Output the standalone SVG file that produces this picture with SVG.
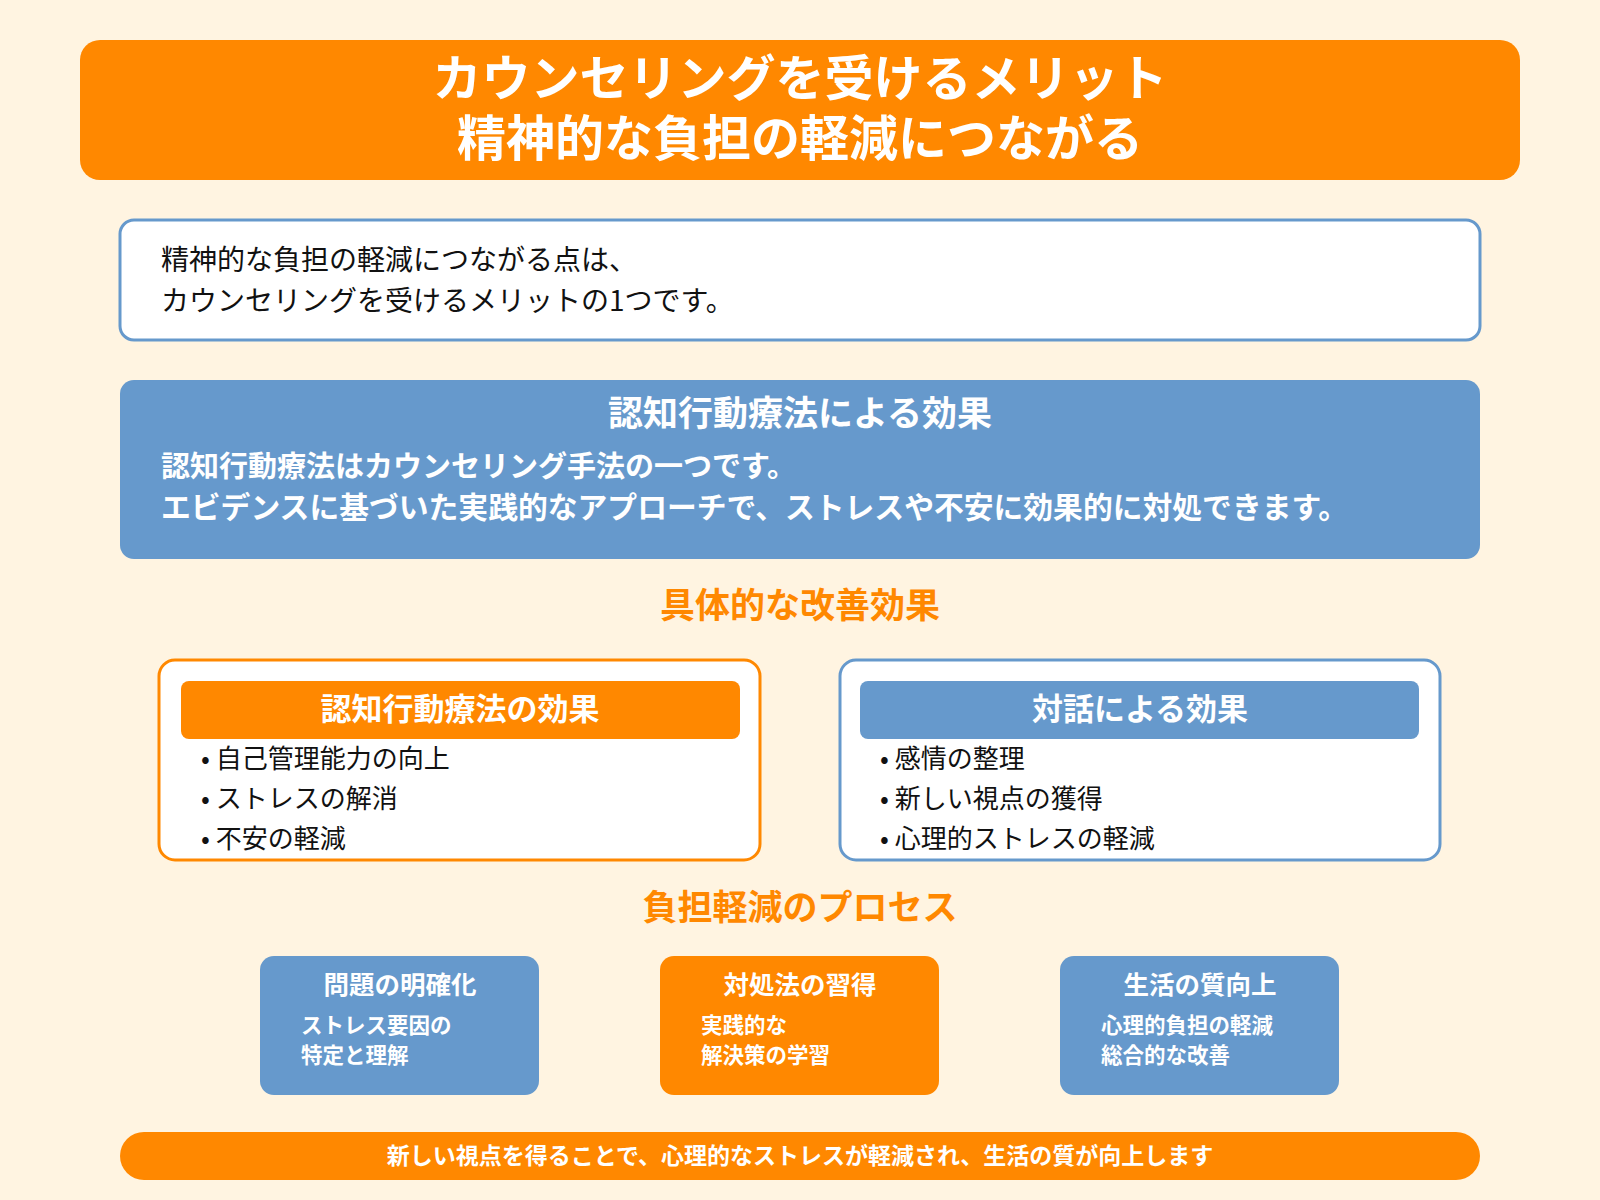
<svg xmlns="http://www.w3.org/2000/svg" width="1600" height="1200" viewBox="0 0 1600 1200">
<style>
text{font-family:"Noto Sans CJK JP","Noto Sans",sans-serif;}
.w{fill:#fff;font-weight:bold}
.b{font-weight:bold}
.c{text-anchor:middle}
.blue{fill:#6699CC}
.or{fill:#FF8800}
</style>
<rect width="1600" height="1200" fill="#FFF4E1"/>
<g id="title">
<rect x="80" y="40" width="1440" height="140" rx="20" class="or"/>
<text x="800" y="96" class="w c" font-size="49">カウンセリングを受けるメリット</text>
<text x="800" y="156" class="w c" font-size="49">精神的な負担の軽減につながる</text>
</g>
<g id="intro">
<rect x="120" y="220" width="1360" height="120" rx="14" fill="#fff" stroke="#6699CC" stroke-width="3"/>
<text x="161" y="270" font-size="28" fill="#111">精神的な負担の軽減につながる点は、</text>
<text x="161" y="311" font-size="28" fill="#111">カウンセリングを受けるメリットの1つです。</text>
</g>
<g id="cbt">
<rect x="120" y="380" width="1360" height="179" rx="14" class="blue"/>
<text x="800" y="426" class="w c" font-size="35">認知行動療法による効果</text>
<text x="161" y="477" class="w" font-size="29">認知行動療法はカウンセリング手法の一つです。</text>
<text x="161" y="518" class="w" font-size="29.8">エビデンスに基づいた実践的なアプローチで、ストレスや不安に効果的に対処できます。</text>
</g>
<text x="800" y="618" class="b c or" font-size="35">具体的な改善効果</text>
<g id="left">
<rect x="159" y="660" width="601" height="200" rx="16" fill="#fff" stroke="#FF8800" stroke-width="3"/>
<rect x="181" y="681" width="559" height="58" rx="8" class="or"/>
<text x="460" y="720" class="w c" font-size="31">認知行動療法の効果</text>
<text x="201" y="768" font-size="26" fill="#111">• 自己管理能力の向上</text>
<text x="201" y="808" font-size="26" fill="#111">• ストレスの解消</text>
<text x="201" y="848" font-size="26" fill="#111">• 不安の軽減</text>
</g>
<g id="right">
<rect x="840" y="660" width="600" height="200" rx="16" fill="#fff" stroke="#6699CC" stroke-width="3"/>
<rect x="860" y="681" width="559" height="58" rx="8" class="blue"/>
<text x="1140" y="720" class="w c" font-size="31">対話による効果</text>
<text x="880" y="768" font-size="26" fill="#111">• 感情の整理</text>
<text x="880" y="808" font-size="26" fill="#111">• 新しい視点の獲得</text>
<text x="880" y="848" font-size="26" fill="#111">• 心理的ストレスの軽減</text>
</g>
<text x="800" y="920" class="b c or" font-size="35">負担軽減のプロセス</text>
<g id="p1">
<rect x="260" y="956" width="279" height="139" rx="14" class="blue"/>
<text x="400" y="994" class="w c" font-size="25.5">問題の明確化</text>
<text x="301" y="1033" class="w" font-size="21.5">ストレス要因の</text>
<text x="301" y="1063" class="w" font-size="21.5">特定と理解</text>
</g>
<g id="p2">
<rect x="660" y="956" width="279" height="139" rx="14" class="or"/>
<text x="800" y="994" class="w c" font-size="25.5">対処法の習得</text>
<text x="701" y="1033" class="w" font-size="21.5">実践的な</text>
<text x="701" y="1063" class="w" font-size="21.5">解決策の学習</text>
</g>
<g id="p3">
<rect x="1060" y="956" width="279" height="139" rx="14" class="blue"/>
<text x="1200" y="994" class="w c" font-size="25.5">生活の質向上</text>
<text x="1101" y="1033" class="w" font-size="21.5">心理的負担の軽減</text>
<text x="1101" y="1063" class="w" font-size="21.5">総合的な改善</text>
</g>
<g id="footer">
<rect x="120" y="1132" width="1360" height="48" rx="24" class="or"/>
<text x="800" y="1164" class="w c" font-size="23">新しい視点を得ることで、心理的なストレスが軽減され、生活の質が向上します</text>
</g>
<g id="connectors"/>
</svg>
